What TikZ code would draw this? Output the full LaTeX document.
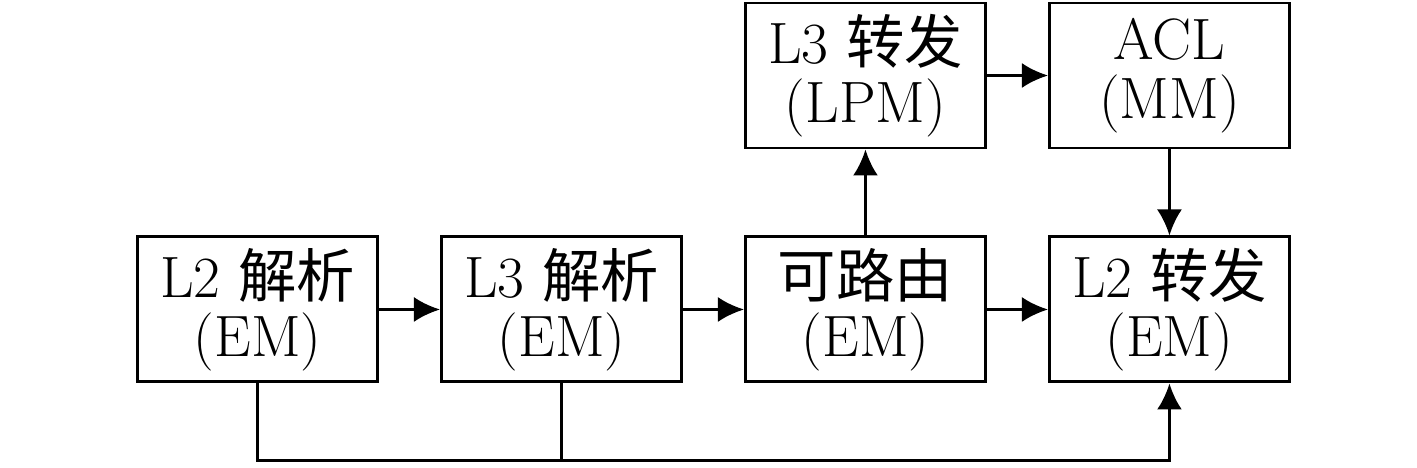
\documentclass[tikz,border=0pt]{standalone}
\usepackage{fontspec}
\newfontfamily\cjk{Noto Sans CJK SC}
\newcommand\zh[1]{{\cjk #1}}
\usetikzlibrary{positioning,arrows.meta}

\begin{document}
\begin{tikzpicture}[font=\fontsize{16.6}{16.8}\selectfont,
  blk/.style={draw,line width=0.85pt,minimum width=2.4cm,minimum height=1.45cm,align=center,inner sep=0pt},
  flow/.style={-{Latex[length=2.6mm,width=2.5mm]},line width=0.85pt}]
\useasboundingbox (0,0) rectangle (14.17,4.68);
% parse / route / forward (bottom row)
\node[blk] (l2p) at (2.575,1.585) {L2 \zh{解析}\\(EM)};
\node[blk,right=0.61cm of l2p] (l3p) {L3 \zh{解析}\\(EM)};
\node[blk,right=0.61cm of l3p] (route) {\zh{可路由}\\(EM)};
\node[blk,right=0.61cm of route] (l2f) {L2 \zh{转发}\\(EM)};

% lookup stages (top row)
\node[blk,above=0.86cm of route] (l3f) {L3 \zh{转发}\\(LPM)};
\node[blk,above=0.86cm of l2f] (acl) {ACL\\(MM)};

% connectors
\draw[flow] (l2p) -- (l3p);
\draw[flow] (l3p) -- (route);
\draw[flow] (route) -- (l2f);
\draw[flow] (route) -- (l3f);
\draw[flow] (l3f) -- (acl);
\draw[flow] (acl) -- (l2f);

% bypass along the bottom
\coordinate[below=0.77cm of l2f.south] (byp);
\draw[flow] (l2p.south) |- (byp) -- (l2f.south);
\draw[line width=0.85pt] (l3p.south) -- (l3p.south |- byp);
\end{tikzpicture}
\end{document}
